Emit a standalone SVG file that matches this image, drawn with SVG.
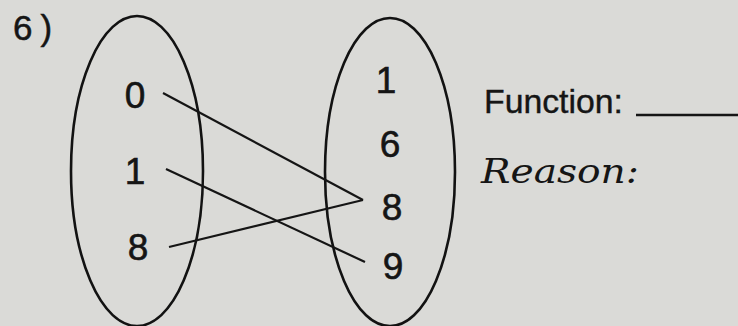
<svg xmlns="http://www.w3.org/2000/svg" width="738" height="326" viewBox="0 0 738 326">
<style>
.num{font-family:"Liberation Sans",Arial,sans-serif;font-size:37px;fill:#151515;text-anchor:middle;stroke:#151515;stroke-width:0.6}
.oval{fill:none;stroke:#121212;stroke-width:2.6}
.conn line{stroke:#151515;stroke-width:2.2}
</style>
<rect width="738" height="326" fill="#dadad7"/>
<text x="13" y="40" font-family="Liberation Sans,Arial,sans-serif" font-size="35" fill="#151515" stroke="#151515" stroke-width="0.5">6<tspan dx="8">)</tspan></text>
<g id="domain">
<ellipse class="oval" cx="137" cy="171" rx="66" ry="155"/>
<text class="num" x="135" y="108">0</text>
<text class="num" x="135" y="184">1</text>
<text class="num" x="138" y="260">8</text>
</g>
<g id="range">
<ellipse class="oval" cx="390" cy="172" rx="65" ry="154"/>
<text class="num" x="386" y="93">1</text>
<text class="num" x="390" y="157">6</text>
<text class="num" x="392" y="220">8</text>
<text class="num" x="393" y="279">9</text>
</g>
<g class="conn" id="connectors">
<line x1="163" y1="93" x2="363" y2="200"/>
<line x1="166" y1="169" x2="365" y2="262"/>
<line x1="169" y1="247" x2="363" y2="200"/>
</g>
<g id="labels">
<text x="484" y="113" font-family="Liberation Sans,Arial,sans-serif" font-size="34" fill="#151515" stroke="#151515" stroke-width="0.4" textLength="139" lengthAdjust="spacingAndGlyphs">Function:</text>
<line x1="636" y1="115" x2="738" y2="115" stroke="#151515" stroke-width="2.6"/>
<text x="481" y="183" font-family="DejaVu Serif,serif" font-style="italic" font-size="34" fill="#151515" textLength="158" lengthAdjust="spacingAndGlyphs">Reason:</text>
</g>
</svg>
